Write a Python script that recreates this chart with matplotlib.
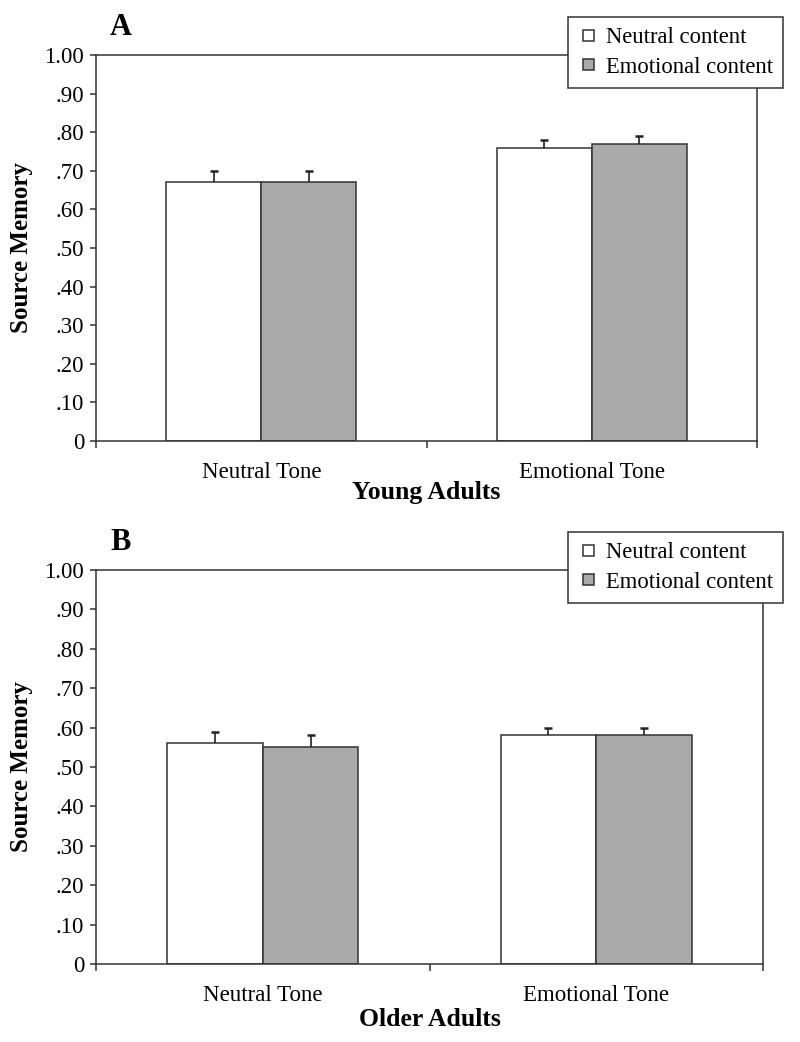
import matplotlib
matplotlib.use("Agg")
import matplotlib.pyplot as plt
import numpy as np
from matplotlib.ticker import FixedLocator
from matplotlib.patches import Rectangle
from matplotlib.legend_handler import HandlerPatch

plt.rcParams['font.family'] = ['Liberation Serif', 'DejaVu Serif']

categories = ["Neutral Tone", "Emotional Tone"]
series_names = ["Neutral content", "Emotional content"]
young_neutral = [0.67, 0.76]
young_emotional = [0.67, 0.77]
young_neutral_err = [0.03, 0.02]
young_emotional_err = [0.03, 0.02]
older_neutral = [0.56, 0.58]
older_emotional = [0.55, 0.58]
older_neutral_err = [0.03, 0.02]
older_emotional_err = [0.03, 0.02]
yticks = [0, 0.1, 0.2, 0.3, 0.4, 0.5, 0.6, 0.7, 0.8, 0.9, 1.0]
ytick_labels = ["0", ".10", ".20", ".30", ".40", ".50", ".60", ".70", ".80", ".90", "1.00"]

W, H = 800, 1042
fig = plt.figure(figsize=(W / 100, H / 100), dpi=100)


class SquareHandler(HandlerPatch):
    def create_artists(self, legend, orig_handle, xdescent, ydescent, width, height,
                       fontsize, trans):
        s = 8.0  # points
        p = Rectangle((-xdescent + width - s, -ydescent + (height - s) / 2), s, s)
        self.update_prop(p, orig_handle, legend)
        p.set_linewidth(1.1)
        p.set_transform(trans)
        return [p]


def px_axes(left, right, top, bottom):
    return fig.add_axes([left / W, 1 - bottom / H, (right - left) / W, (bottom - top) / H])

axA = px_axes(96, 757, 55, 441)
axB = px_axes(96, 763, 570, 964)

colors = ["white", "#aaaaaa"]
edge = "#333333"

def draw(ax, vals, errs, xlabel, letter, wpx, hpx, xlab_off):
    x = np.arange(len(categories))
    w = 0.287
    handles = []
    for i, (v, e) in enumerate(zip(vals, errs)):
        pos = x + (i - 0.5) * w
        b = ax.bar(pos, v, width=w, color=colors[i], edgecolor=edge, linewidth=1.1,
                   label=series_names[i], zorder=2)
        eb = ax.errorbar(pos, v, yerr=[np.zeros(len(e)), e], fmt='none', ecolor='#222222',
                         elinewidth=1.2, capsize=2.6, capthick=1.8, zorder=3)
        for cl in eb[1]:
            if np.allclose(cl.get_ydata(), v):
                cl.set_visible(False)
        handles.append(b.patches[0])
    ax.set_xlim(-0.5, 1.5)
    ax.set_ylim(0, 1.0)
    ax.set_yticks(yticks)
    ax.set_yticklabels(ytick_labels, fontsize=16.5)
    ax.set_xticks(x)
    ax.set_xticklabels(categories, fontsize=16.5)
    ax.xaxis.set_minor_locator(FixedLocator([-0.5, 0.5, 1.5]))
    ax.tick_params(axis='x', which='major', length=0, pad=15)
    ax.tick_params(axis='x', which='minor', length=5, width=1.1, direction='out', color='#333333')
    ax.tick_params(axis='y', length=4.5, width=1.1, direction='out', color='#333333', pad=4)
    for s in ax.spines.values():
        s.set_linewidth(1.1)
        s.set_color('#333333')
    ax.set_xlabel(xlabel, fontsize=18.5, fontweight='bold')
    ax.xaxis.set_label_coords(0.5, -xlab_off / hpx)
    ax.set_ylabel("Source Memory", fontsize=18, fontweight='bold')
    ax.yaxis.set_label_coords(-63 / wpx, 0.5)
    ax.text(14 / wpx, 1 + 20 / hpx, letter, transform=ax.transAxes, fontsize=22,
            fontweight='bold', ha='left', va='baseline')
    leg = ax.legend(handles=handles, labels=series_names, loc='upper left',
                    bbox_to_anchor=((568 - 96) / wpx, 1 + 38 / hpx),
                    handler_map={Rectangle: SquareHandler()},
                    fontsize=16.3, frameon=True, fancybox=False, edgecolor='#333333',
                    framealpha=1.0, facecolor='white',
                    handlelength=0.7, handleheight=0.5, handletextpad=0.53,
                    borderpad=0.45, labelspacing=0.38, borderaxespad=0)
    leg.get_frame().set_linewidth(1.1)
    leg.set_zorder(5)

draw(axA, [young_neutral, young_emotional], [young_neutral_err, young_emotional_err],
     "Young Adults", "A", 661, 386, 40)
draw(axB, [older_neutral, older_emotional], [older_neutral_err, older_emotional_err],
     "Older Adults", "B", 667, 394, 44)

fig.savefig("out.png", dpi=100)
